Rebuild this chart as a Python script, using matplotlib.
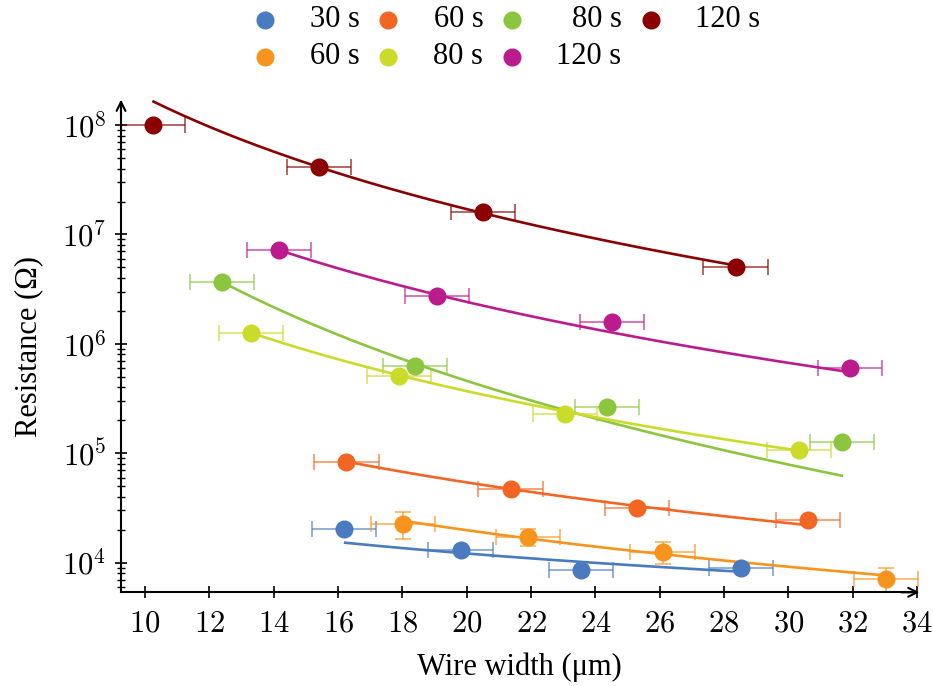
import numpy as np
import matplotlib
matplotlib.use('Agg')
import matplotlib.pyplot as plt
from matplotlib.lines import Line2D
from matplotlib.ticker import FuncFormatter, LogLocator, NullFormatter

plt.rcParams['font.family'] = ['Liberation Serif', 'DejaVu Serif']
plt.rcParams['mathtext.fontset'] = 'cm'

# wire width (um) and resistance (ohm) per annealing time
width_30 = [16.19, 19.81, 23.55, 28.52]
res_30 = [2.02e4, 1.31e4, 8.63e3, 8.96e3]

width_60a = [16.26, 21.36, 25.30, 30.62]
res_60a = [8.38e4, 4.69e4, 3.18e4, 2.46e4]

width_80a = [12.40, 18.40, 24.36, 31.67]
res_80a = [3.66e6, 6.24e5, 2.65e5, 1.27e5]

width_120a = [10.24, 15.40, 20.51, 28.36]
res_120a = [1.00e8, 4.11e7, 1.60e7, 5.01e6]

width_60b = [18.01, 21.91, 26.09, 33.03]
res_60b = [2.26e4, 1.71e4, 1.24e4, 7.10e3]
res_60b_lo = [1.64e4, 1.42e4, 9.66e3, 5.37e3]
res_60b_hi = [2.90e4, 2.05e4, 1.53e4, 8.95e3]

width_80b = [13.30, 17.90, 23.06, 30.32]
res_80b = [1.26e6, 5.12e5, 2.27e5, 1.06e5]

width_120b = [14.16, 19.07, 24.51, 31.92]
res_120b = [7.21e6, 2.74e6, 1.58e6, 5.98e5]

width_err = 1.0

# power-law fit curves: (w_start, w_end, R_start, R_end)
fit_30 = (16.22, 28.46, 1.52e4, 8.28e3)
fit_60a = (16.26, 30.56, 8.38e4, 2.21e4)
fit_80a = (12.40, 31.66, 3.66e6, 6.24e4)
fit_120a = (10.26, 28.30, 1.64e8, 5.25e6)
fit_60b = (18.19, 33.03, 2.37e4, 7.64e3)
fit_80b = (13.30, 30.30, 1.26e6, 1.06e5)
fit_120b = (14.16, 31.81, 7.21e6, 5.57e5)

c_blue = '#4a7bc0'
c_red = '#f26522'
c_green = '#8cc63f'
c_dred = '#8b0000'
c_orange = '#f7941d'
c_lime = '#cbdb2a'
c_mag = '#bc1b8d'

series = [
    (width_30, res_30, None, fit_30, c_blue),
    (width_60a, res_60a, None, fit_60a, c_red),
    (width_80a, res_80a, None, fit_80a, c_green),
    (width_120a, res_120a, None, fit_120a, c_dred),
    (width_60b, res_60b, (res_60b_lo, res_60b_hi), fit_60b, c_orange),
    (width_80b, res_80b, None, fit_80b, c_lime),
    (width_120b, res_120b, None, fit_120b, c_mag),
]


def fit_curve(p):
    w0, w1, r0, r1 = p
    n = np.log(r1 / r0) / np.log(w1 / w0)
    w = np.linspace(w0, w1, 200)
    return w, r0 * (w / w0) ** n


fig = plt.figure(figsize=(9.33, 6.86), dpi=100)
ax = fig.add_axes([0.1297, 0.1366, 0.8532, 0.7152])

for w, r, rerr, fit, col in series:
    w = np.array(w)
    r = np.array(r)
    yerr = None
    if rerr is not None:
        yerr = [r - np.array(rerr[0]), np.array(rerr[1]) - r]
    ax.errorbar(w, r, xerr=width_err, yerr=yerr, fmt='none', ecolor=col,
                elinewidth=1.3, capsize=6, capthick=1.3, alpha=0.65,
                zorder=2, clip_on=False)
    fw, fr = fit_curve(fit)
    ax.plot(fw, fr, color=col, lw=1.9, zorder=3, clip_on=False)
    ax.plot(w, r, 'o', color=col, ms=13, mec='none', zorder=4, clip_on=False)

ax.set_yscale('log')
ax.set_xlim(9.25, 34)
ax.set_ylim(10 ** 3.729, 10 ** 8.214)
ax.set_xticks(np.arange(10, 35, 2))
ax.xaxis.set_major_formatter(FuncFormatter(lambda v, p: r'$%d$' % v))
ax.yaxis.set_major_locator(LogLocator(base=10, numticks=10))
ax.yaxis.set_minor_locator(LogLocator(base=10, subs=np.arange(2, 10), numticks=100))
ax.yaxis.set_minor_formatter(NullFormatter())
ax.yaxis.set_major_formatter(FuncFormatter(lambda v, p: r'$10^{%d}$' % round(np.log10(v))))

for s in ['top', 'right']:
    ax.spines[s].set_visible(False)
for s in ['left', 'bottom']:
    ax.spines[s].set_linewidth(1.5)

ax.tick_params(axis='both', which='major', direction='inout', length=9,
               width=1.2, labelsize=22, pad=6)
ax.tick_params(axis='x', which='major', pad=8)
ax.tick_params(axis='y', which='minor', direction='inout', length=6, width=1.0)
ax.tick_params(axis='x', which='minor', bottom=False)

# open arrow heads at the axis ends
ax.annotate('', xy=(1.003, 0), xytext=(0.98, 0), xycoords='axes fraction',
            arrowprops=dict(arrowstyle='->', lw=1.5, color='k',
                            mutation_scale=16, shrinkA=0, shrinkB=0))
ax.annotate('', xy=(0, 1.004), xytext=(0, 0.97), xycoords='axes fraction',
            arrowprops=dict(arrowstyle='->', lw=1.5, color='k',
                            mutation_scale=16, shrinkA=0, shrinkB=0))

ax.set_xlabel('Wire width (μm)', fontsize=22, labelpad=10)
ax.set_ylabel('Resistance (Ω)', fontsize=22, labelpad=14)

# legend, two rows, labels right aligned per column
leg_rows = [
    [(c_blue, '30 s'), (c_red, '60 s'), (c_green, '80 s'), (c_dred, '120 s')],
    [(c_orange, '60 s'), (c_lime, '80 s'), (c_mag, '120 s')],
]
mark_x = [0.284, 0.416, 0.549, 0.698]
text_x = [0.386, 0.518, 0.666, 0.815]
row_y = [0.971, 0.917]
for i, row in enumerate(leg_rows):
    for j, (col, lab) in enumerate(row):
        fig.add_artist(Line2D([mark_x[j]], [row_y[i]], marker='o', ms=13,
                              color=col, mec='none', transform=fig.transFigure))
        fig.text(text_x[j], row_y[i], lab, ha='right', va='center', fontsize=22)

fig.savefig('out.png', dpi=100)
